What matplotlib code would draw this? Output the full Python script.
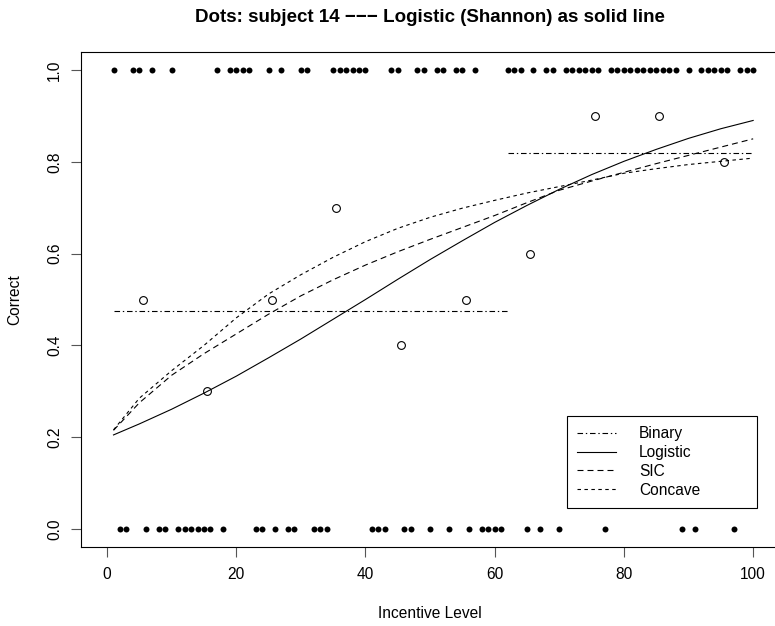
import matplotlib
matplotlib.use("Agg")
import matplotlib.pyplot as plt

plt.rcParams['font.family'] = ['Liberation Sans', 'DejaVu Sans']
plt.rcParams['lines.scale_dashes'] = False

# Individual trials (incentive level) with outcome correct = 1 / 0
correct_x = [1, 4, 5, 7, 10, 17, 19, 20, 21, 22, 25, 27, 30, 31, 35, 36, 37, 38, 39, 40,
             44, 45, 48, 49, 51, 52, 54, 55, 57, 62, 63, 64, 66, 68, 69, 71, 72, 73, 74,
             75, 76, 78, 79, 80, 81, 82, 83, 84, 85, 86, 87, 88, 90, 92, 93, 94, 95, 96,
             98, 99, 100]
wrong_x = [2, 3, 6, 8, 9, 11, 12, 13, 14, 15, 16, 18, 23, 24, 26, 28, 29, 32, 33, 34,
           41, 42, 43, 46, 47, 50, 53, 56, 58, 59, 60, 61, 65, 67, 70, 77, 89, 91, 97]

# Binned proportions correct (open circles)
bin_x = [5.5, 15.5, 25.5, 35.5, 45.5, 55.5, 65.5, 75.5, 85.5, 95.5]
bin_p = [0.5, 0.3, 0.5, 0.7, 0.4, 0.5, 0.6, 0.9, 0.9, 0.8]

# Binary model: two step levels
binary_x1 = [1, 62]
binary_y1 = [0.475, 0.475]
binary_x2 = [62, 100]
binary_y2 = [0.82, 0.82]

# Fitted curves
curve_x = [1, 5, 10, 15, 20, 25, 30, 35, 40, 45, 50, 55, 60, 65, 70, 75, 80, 85, 90, 95, 100]
logistic_y = [0.205, 0.229, 0.261, 0.296, 0.333, 0.373, 0.414, 0.457, 0.500, 0.544, 0.587,
              0.628, 0.668, 0.705, 0.740, 0.772, 0.801, 0.827, 0.851, 0.872, 0.890]
sic_y = [0.215, 0.275, 0.335, 0.382, 0.425, 0.468, 0.508, 0.543, 0.575, 0.604, 0.631,
         0.657, 0.683, 0.711, 0.738, 0.758, 0.777, 0.796, 0.814, 0.832, 0.850]
concave_y = [0.216, 0.285, 0.345, 0.400, 0.460, 0.512, 0.554, 0.592, 0.626, 0.655, 0.679,
             0.699, 0.716, 0.732, 0.746, 0.760, 0.775, 0.785, 0.794, 0.801, 0.808]

xticks = [0, 20, 40, 60, 80, 100]
yticks = [0.0, 0.2, 0.4, 0.6, 0.8, 1.0]
ytick_labels = ["0.0", "0.2", "0.4", "0.6", "0.8", "1.0"]

fig = plt.figure(figsize=(7.75, 6.26), dpi=100)
ax = fig.add_axes([81.2 / 775, (626 - 547.4) / 626, (779 - 81.2) / 775, 495.8 / 626])

lw = 0.8
fs = 11.2
ax.plot(correct_x, [1] * len(correct_x), 'o', color='black', markersize=4.3, markeredgewidth=0)
ax.plot(wrong_x, [0] * len(wrong_x), 'o', color='black', markersize=4.3, markeredgewidth=0)
ax.plot(bin_x, bin_p, 'o', markerfacecolor='none', markeredgecolor='black',
        markersize=5.6, markeredgewidth=0.8)

dotdash = (0, (4.0, 2.0, 1.0, 2.0))
ax.plot(binary_x1, binary_y1, color='black', lw=lw, linestyle=dotdash, label='Binary')
ax.plot(binary_x2, binary_y2, color='black', lw=lw, linestyle=dotdash)
ax.plot(curve_x, logistic_y, color='black', lw=lw, linestyle='-', label='Logistic')
ax.plot(curve_x, sic_y, color='black', lw=lw, linestyle=(0, (4.3, 2.9)), label='SIC')
ax.plot(curve_x, concave_y, color='black', lw=lw, linestyle=(0, (2.5, 2.5)), label='Concave')

ax.set_xlim(-4, 104)
ax.set_ylim(-0.04, 1.04)
ax.set_xticks(xticks)
ax.set_yticks(yticks)
ax.set_yticklabels(ytick_labels, rotation=90, va='center')
ax.tick_params(axis='both', direction='out', length=7.2, width=0.8, labelsize=fs,
               color='#555555')
ax.tick_params(axis='x', pad=7)
ax.tick_params(axis='y', pad=6.5)
for s in ax.spines.values():
    s.set_linewidth(0.8)

ax.set_xlabel('Incentive Level', fontsize=fs, labelpad=17)
ax.set_ylabel('Correct', fontsize=fs, labelpad=18)
fig.text((81.2 + 779) / 2 / 775, 1 - 17 / 626,
         'Dots: subject 14 \u2212\u2212\u2212 Logistic (Shannon) as solid line',
         ha='center', va='center', fontsize=13.5, fontweight='bold')

leg = ax.legend(loc='upper left', bbox_to_anchor=(0.696, 0.075, 0.273, 0.19),
                mode='expand', fancybox=False, framealpha=1, edgecolor='black',
                fontsize=fs, handlelength=2.5, handletextpad=1.5, borderpad=0.65,
                labelspacing=0.25, borderaxespad=0)
leg.get_frame().set_linewidth(0.8)

fig.savefig('out.png', dpi=100)
